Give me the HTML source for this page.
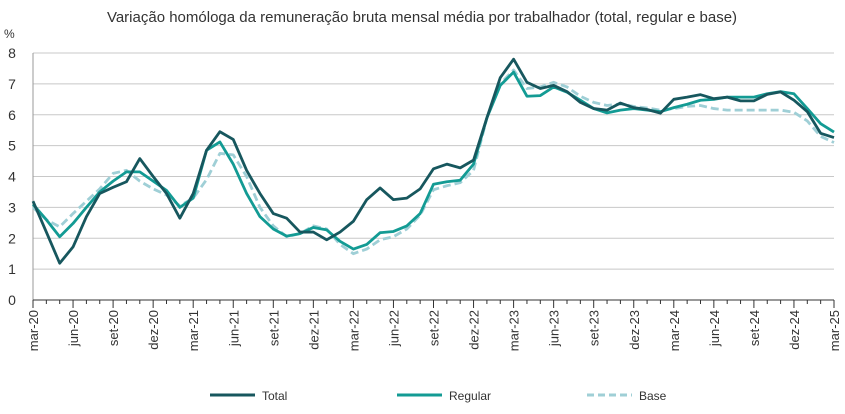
<!DOCTYPE html>
<html><head><meta charset="utf-8"><style>
body{margin:0;background:#fff;font-family:"Liberation Sans",sans-serif;}
svg text{font-family:"Liberation Sans",sans-serif;fill:#333;}
</style></head><body>
<svg id="c" width="845" height="409">
<text x="422" y="22" text-anchor="middle" font-size="15">Variação homóloga da remuneração bruta mensal média por trabalhador (total, regular e base)</text>
<text x="4" y="38" font-size="12">%</text>
<g id="grid"></g><g id="axes"></g><g id="series"></g>
<g>
<line x1="210" y1="395" x2="255" y2="395" stroke="#17575e" stroke-width="3"/>
<text x="262" y="400" font-size="12">Total</text>
<line x1="397" y1="395" x2="442" y2="395" stroke="#139b94" stroke-width="3"/>
<text x="449" y="400" font-size="12">Regular</text>
<line x1="587" y1="395" x2="632" y2="395" stroke="#9fcfd6" stroke-width="3" stroke-dasharray="7,4"/>
<text x="639" y="400" font-size="12">Base</text>
</g>
</svg>
<script>
const months=["mar","abr","mai","jun","jul","ago","set","out","nov","dez","jan","fev"];
const yTicks=[0,1,2,3,4,5,6,7,8];
const total=[3.2,2.2,1.19,1.72,2.7,3.45,3.65,3.83,4.58,4.0,3.45,2.65,3.45,4.85,5.45,5.2,4.2,3.45,2.8,2.65,2.2,2.2,1.95,2.2,2.55,3.25,3.63,3.25,3.3,3.6,4.25,4.4,4.28,4.53,5.9,7.2,7.8,7.05,6.85,6.95,6.75,6.4,6.2,6.15,6.38,6.23,6.17,6.05,6.5,6.57,6.65,6.52,6.57,6.45,6.45,6.66,6.74,6.47,6.1,5.4,5.26];
const regular=[3.1,2.6,2.05,2.48,3.0,3.5,3.85,4.15,4.15,3.85,3.55,3.0,3.3,4.85,5.12,4.4,3.45,2.7,2.3,2.07,2.15,2.35,2.27,1.9,1.65,1.8,2.18,2.22,2.4,2.8,3.75,3.83,3.88,4.4,5.9,6.95,7.38,6.6,6.62,6.9,6.73,6.47,6.2,6.06,6.15,6.2,6.15,6.1,6.23,6.34,6.47,6.5,6.57,6.57,6.57,6.68,6.75,6.68,6.2,5.71,5.44];
const base=[3.0,2.6,2.37,2.8,3.2,3.6,4.1,4.2,3.85,3.6,3.4,3.05,3.3,3.9,4.75,4.7,4.0,3.0,2.4,2.05,2.15,2.4,2.3,1.8,1.5,1.65,1.95,2.05,2.3,2.75,3.57,3.7,3.8,4.2,5.9,7.0,7.45,6.85,6.9,7.05,6.9,6.6,6.4,6.3,6.35,6.27,6.22,6.15,6.2,6.27,6.3,6.2,6.15,6.15,6.15,6.15,6.15,6.08,5.8,5.3,5.1];
const X0=33,X1=834,Y0=300,Y8=53,N=total.length;
const x=i=>X0+(X1-X0)*i/(N-1), y=v=>Y0-(Y0-Y8)*v/8;
const ns="http://www.w3.org/2000/svg";
function mk(t,a,p){const e=document.createElementNS(ns,t);for(const k in a)e.setAttribute(k,a[k]);p.appendChild(e);return e;}
const g=document.getElementById('grid'),ax=document.getElementById('axes'),s=document.getElementById('series');
yTicks.forEach(v=>{
 if(v>0){const l=mk('line',{x1:X0,x2:X1,y1:y(v),y2:y(v),stroke:'#c8c8c8','stroke-width':1},g);
 
 }
 const t=mk('text',{x:12,y:y(v)+5,'font-size':14,'text-anchor':'middle'},ax);t.textContent=v;
 
 
});
mk('line',{x1:X0,x2:X0,y1:Y8,y2:Y0,stroke:'#999'},ax);
mk('line',{x1:X0,x2:X1,y1:Y0,y2:Y0,stroke:'#333'},ax);
for(let i=0;i<N;i++){
 const major=i%3===0;
 mk('line',{x1:x(i),x2:x(i),y1:Y0,y2:Y0+(major?8:4),stroke:'#333'},ax);
 if(major){const m=months[i%12],yr=20+Math.floor((i+2)/12);
  const t=mk('text',{transform:`translate(${x(i)+5},${Y0+10}) rotate(-90)`,'font-size':13,'text-anchor':'end'},ax);
  t.textContent=m+'-'+yr;
  
  }
}
function line(d,c,name,dash){
 const p=mk('polyline',{points:d.map((v,i)=>x(i)+','+y(v)).join(' '),fill:'none',stroke:c,'stroke-width':2.8,'stroke-linejoin':'round'},s);
 if(dash)p.setAttribute('stroke-dasharray',dash);
 
 
}
line(base,'#9fcfd6','series-base','8,4');
line(regular,'#139b94','series-regular');
line(total,'#17575e','series-total');
</script>
</body></html>
